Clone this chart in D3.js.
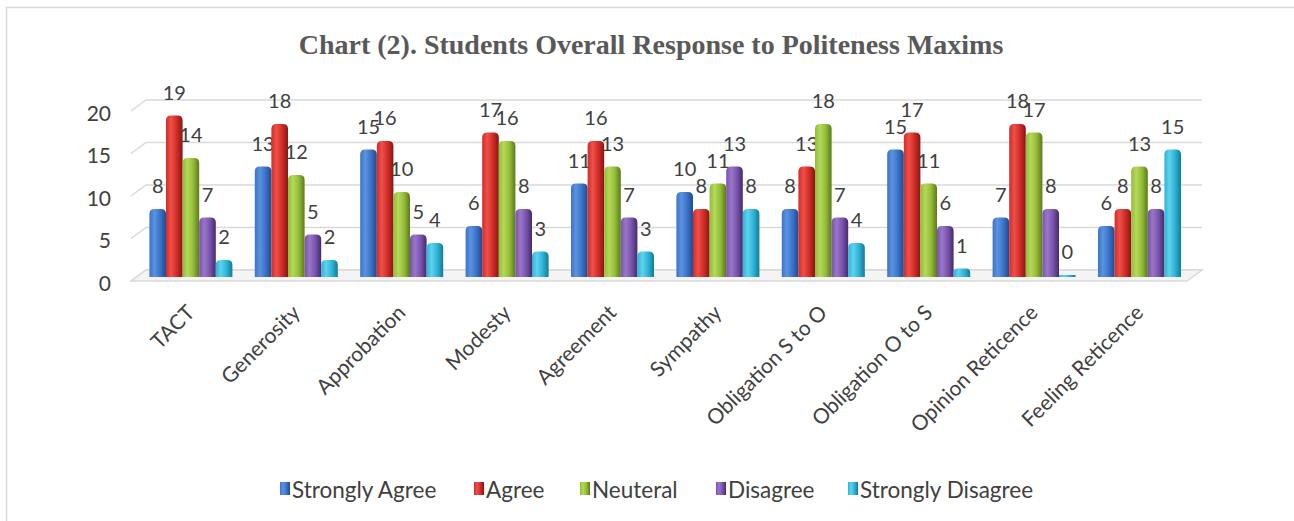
<!DOCTYPE html>
<html>
<head>
<meta charset="utf-8">
<script src="https://cdn.jsdelivr.net/npm/d3@7"></script>
<style>
  body { margin: 0; background: #fff; }
  svg { display: block; }
</style>
</head>
<body>
<svg id="chart"></svg>
<script>
// chart data
const categories = ["TACT", "Generosity", "Approbation", "Modesty", "Agreement", "Sympathy",
    "Obligation S to O", "Obligation O to S", "Opinion Reticence", "Feeling Reticence"];
const seriesNames = ["Strongly Agree", "Agree", "Neuteral", "Disagree", "Strongly Disagree"];
const stronglyAgree = [8, 13, 15, 6, 11, 10, 8, 15, 7, 6];
const agree = [19, 18, 16, 17, 16, 8, 13, 17, 18, 8];
const neuteral = [14, 12, 10, 16, 13, 11, 18, 11, 17, 13];
const disagree = [7, 5, 5, 8, 7, 13, 7, 6, 8, 8];
const stronglyDisagree = [2, 2, 4, 3, 3, 8, 4, 1, 0, 15];
const yTicks = [0, 5, 10, 15, 20];

const seriesValues = [stronglyAgree, agree, neuteral, disagree, stronglyDisagree];
// [light, mid, dark] for the cylinder look
const colors = [
    ["#5b93e0", "#3b73c8", "#1d4a90"],
    ["#ee5048", "#d02c27", "#861614"],
    ["#b5d95a", "#93bb38", "#5a7a1a"],
    ["#9a76c9", "#7853ac", "#452a6c"],
    ["#5fd2ee", "#2db3d6", "#137a96"]
];

const width = 1294, height = 521;
const svg = d3.select("#chart").attr("width", width).attr("height", height);
const defs = svg.append("defs");

colors.forEach((c, i) => {
    const g = defs.append("linearGradient").attr("id", "grad" + i)
        .attr("x1", "0%").attr("x2", "100%").attr("y1", "0%").attr("y2", "0%");
    g.append("stop").attr("offset", "0%").attr("stop-color", c[1]);
    g.append("stop").attr("offset", "30%").attr("stop-color", c[0]);
    g.append("stop").attr("offset", "65%").attr("stop-color", c[1]);
    g.append("stop").attr("offset", "100%").attr("stop-color", c[2]);
});

// outer frame
svg.append("rect")
    .attr("x", 6.5).attr("y", 7.5)
    .attr("width", 1300).attr("height", 520)
    .attr("fill", "white")
    .attr("stroke", "#d9d9d9").attr("stroke-width", 1.5);

// title
svg.append("text")
    .attr("x", 651).attr("y", 54)
    .attr("text-anchor", "middle")
    .attr("font-family", "Liberation Serif, Times New Roman, serif")
    .attr("font-weight", "bold")
    .attr("font-size", 28)
    .attr("fill", "#595959")
    .text("Chart (2). Students Overall Response to Politeness Maxims");

// scales
const y = d3.scaleLinear().domain([0, 20]).range([277, 107]);
const x0 = d3.scaleBand().domain(categories).range([127, 1203.4]).padding(0.2125);
const x1 = d3.scaleBand().domain(seriesNames).range([0, x0.bandwidth()]);

// 3D gridlines (back wall + slanted side)
const grid = svg.append("g");
yTicks.forEach(t => {
    const yf = y(t) + 4, yb = y(t) - 7;
    grid.append("path")
        .attr("d", `M131,${yf} L146,${yb} L1202,${yb}`)
        .attr("fill", "none")
        .attr("stroke", "#d9d9d9")
        .attr("stroke-width", 1.5);
});

// floor
svg.append("path")
    .attr("d", `M131,${y(0) + 4} L146,${y(0) - 7} L1202,${y(0) - 7} L1187,${y(0) + 4} Z`)
    .attr("fill", "#f4f4f4")
    .attr("stroke", "#d9d9d9")
    .attr("stroke-width", 1.5);

// y axis labels
svg.append("g").selectAll("text")
    .data(yTicks).enter().append("text")
    .attr("x", 111).attr("y", d => y(d) + 5)
    .attr("text-anchor", "end")
    .attr("dominant-baseline", "central")
    .attr("font-family", "Lato, sans-serif")
    .attr("font-size", 21)
    .attr("fill", "#404040")
    .text(d => d);

// bars
const groups = svg.append("g").selectAll("g")
    .data(categories).enter().append("g")
    .attr("transform", d => `translate(${x0(d)},0)`);

groups.each(function (cat, ci) {
    const g = d3.select(this);
    seriesNames.forEach((s, si) => {
        const v = seriesValues[si][ci];
        const bx = x1(s), bw = x1.bandwidth();
        const top = v === 0 ? y(0) - 2 : y(v);
        const r = Math.min(5, (y(0) - top) / 2);
        g.append("path")
            .attr("d", `M${bx},${y(0)} L${bx},${top + r} Q${bx},${top} ${bx + r},${top}
                L${bx + bw - r},${top} Q${bx + bw},${top} ${bx + bw},${top + r} L${bx + bw},${y(0)} Z`)
            .attr("fill", `url(#grad${si})`);
        g.append("text")
            .attr("x", bx + bw / 2)
            .attr("y", top - 16)
            .attr("text-anchor", "middle")
            .attr("font-family", "Lato, sans-serif")
            .attr("font-size", 20)
            .attr("fill", "#404040")
            .text(v);
    });
});

// x labels
svg.append("g").selectAll("text")
    .data(categories).enter().append("text")
    .attr("transform", d => `translate(${x0(d) + x0.bandwidth() / 2 + 5},${314}) rotate(-45)`)
    .attr("text-anchor", "end")
    .attr("font-family", "Lato, sans-serif")
    .attr("font-size", 21)
    .attr("fill", "#404040")
    .text(d => d);

// legend
const legendX = [280, 474, 580, 716, 848];
const legend = svg.append("g").selectAll("g")
    .data(seriesNames).enter().append("g")
    .attr("transform", (d, i) => `translate(${legendX[i]},488)`);
legend.append("rect")
    .attr("x", 0).attr("y", -6)
    .attr("width", 10).attr("height", 13)
    .attr("fill", (d, i) => `url(#grad${i})`);
legend.append("text")
    .attr("x", 12).attr("y", 1)
    .attr("dominant-baseline", "central")
    .attr("font-family", "Lato, sans-serif")
    .attr("font-size", 22.5)
    .attr("fill", "#404040")
    .text(d => d);
</script>
</body>
</html>
